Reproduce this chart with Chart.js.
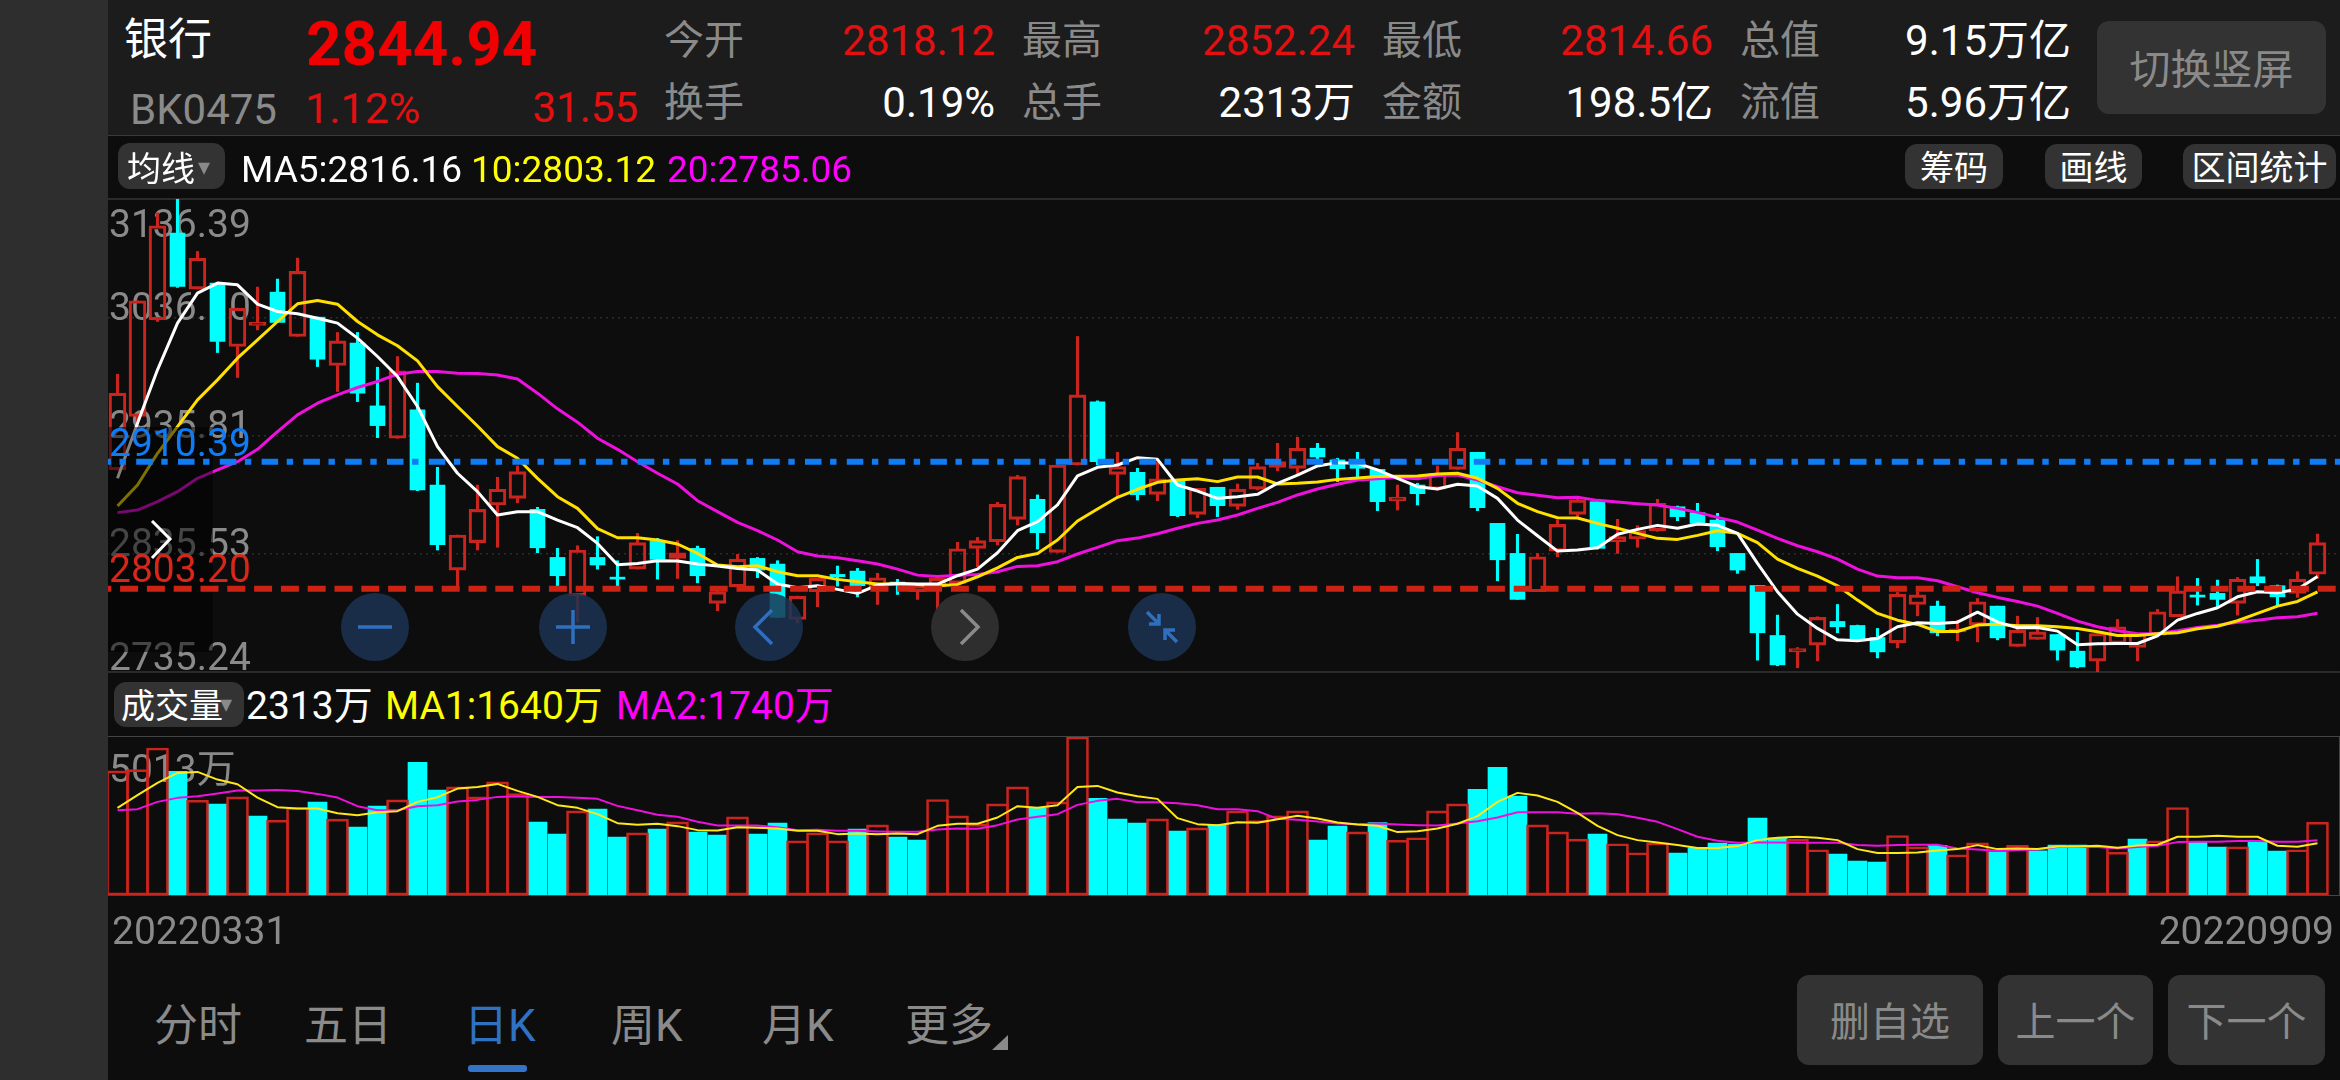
<!DOCTYPE html>
<html>
<head>
<meta charset="utf-8">
<script src="https://cdn.jsdelivr.net/npm/chart.js"></script>
<style>
html, body { margin: 0; padding: 0; width: 2340px; height: 1080px; overflow: hidden; background: #0d0d0d; }
body { position: relative; font-family: Roboto, "Noto Sans CJK SC", sans-serif; }
canvas { position: absolute; display: block; }
.box { position: absolute; }
.txt { position: absolute; height: 60px; line-height: 60px; white-space: nowrap; }
.btn { position: absolute; background: #333; border-radius: 12px; }
.circle { position: absolute; width: 68px; height: 68px; border-radius: 34px; top: 593px; background: rgba(28,52,84,.85); }
.circle svg { position: absolute; left: 0; top: 0; }
</style>
</head>
<body>
<div class="box" style="left:0;top:0;width:108px;height:1080px;background:#2e2e2e"></div>
<div class="box" style="left:108px;top:0;width:2232px;height:135px;background:#1c1c1c"></div>
<div class="box" style="left:108px;top:135px;width:2232px;height:1px;background:#3a3a3a"></div>
<div class="box" style="left:108px;top:198px;width:2232px;height:2px;background:#2a2a2a"></div>
<div class="box" style="left:108px;top:671px;width:2232px;height:2px;background:#2a2a2a"></div>
<div class="box" style="left:108px;top:736px;width:2231px;height:159px;border-top:1px solid #444;border-right:1px solid #444"></div>
<canvas id="priceCanvas" width="2232" height="473" style="left:108px;top:199px"></canvas>
<canvas id="volumeCanvas" width="2232" height="223" style="left:108px;top:737px"></canvas>
<script>
var dateLabels = ['20220331', '20220909'];
var priceTicks = [3136.39, 3036.10, 2935.81, 2835.53, 2735.24];
var priceTickLabels = ['3136.39', '3036.10', '2935.81', '2835.53', '2735.24'];
var resistanceLine = 2913.6;
var supportLine = 2805.8;
var resistanceLabel = '2910.39';
var supportLabel = '2803.20';
var volumeMax = 5013;
var volumeMaxLabel = '5013万';

var candleOpen = [
  2906.6,2951.9,3033.9,3107.5,3060.0,3065.1,3011.3,3029.1,3057.4,3019.8,
  3036.2,2995.2,3014.1,2960.9,2933.5,2957.5,2893.8,2821.7,2844.9,2876.9,
  2882.5,2873.2,2832.4,2799.9,2832.4,2814.6,2822.5,2846.6,2831.6,2840.1,
  2793.4,2807.5,2831.6,2826.8,2779.8,2803.3,2818.0,2820.8,2807.5,2811.5,
  2803.3,2807.5,2810.4,2840.1,2845.7,2864.7,2881.7,2836.7,2910.8,2964.3,
  2902.9,2904.6,2885.9,2898.1,2868.9,2891.9,2875.7,2890.4,2908.8,2908.0,
  2925.0,2915.1,2913.6,2907.1,2880.5,2893.8,2890.2,2907.1,2921.6,2861.3,
  2835.8,2803.3,2837.8,2868.9,2879.7,2845.7,2848.0,2855.1,2875.4,2870.4,
  2864.1,2835.8,2808.6,2766.2,2752.3,2758.0,2778.1,2774.7,2764.5,2760.0,
  2792.5,2791.1,2769.3,2775.0,2791.1,2756.9,2762.8,2767.0,2752.9,2744.4,
  2759.4,2756.0,2766.5,2782.1,2799.3,2801.9,2793.4,2816.0,2808.4,2801.9,2818.12
];
var candleHigh = [
  2987.8,3050.1,3124.5,3136.4,3091.9,3065.6,3043.8,3061.7,3068.5,3086.3,
  3036.2,3023.2,3023.2,2993.7,3002.8,2980.2,2908.8,2851.4,2893.8,2900.4,
  2910.0,2874.9,2840.1,2842.3,2850.0,2829.6,2852.8,2848.6,2846.6,2842.0,
  2807.5,2835.0,2832.4,2829.6,2799.6,2814.6,2825.1,2823.1,2818.9,2813.8,
  2810.4,2814.6,2845.2,2849.4,2879.1,2902.0,2885.4,2910.8,3019.8,2965.2,
  2921.6,2908.0,2913.6,2898.1,2891.0,2891.9,2894.7,2912.2,2929.2,2934.3,
  2929.2,2916.5,2921.6,2907.1,2893.8,2895.3,2910.0,2938.3,2921.6,2861.3,
  2852.0,2835.8,2864.1,2881.7,2881.1,2864.7,2859.3,2881.7,2876.0,2878.3,
  2869.8,2835.8,2808.6,2783.5,2756.0,2782.1,2792.5,2775.0,2772.2,2802.7,
  2803.3,2795.4,2779.2,2797.6,2791.1,2782.6,2781.5,2767.0,2768.8,2767.9,
  2779.8,2767.9,2788.3,2816.0,2814.6,2813.2,2815.4,2830.7,2809.0,2820.3,2852.24
];
var candleLow = [
  2906.6,2946.2,3032.5,3061.4,3060.0,3006.2,2985.0,3025.4,3031.7,3019.8,
  2994.3,2973.1,2964.6,2934.0,2933.5,2889.0,2838.7,2805.8,2838.7,2841.0,
  2878.8,2836.4,2807.5,2777.8,2822.5,2808.4,2822.5,2814.0,2814.6,2810.9,
  2787.2,2807.5,2815.2,2781.5,2777.0,2790.6,2808.1,2799.0,2792.5,2801.0,
  2796.8,2785.5,2809.0,2824.5,2842.9,2859.9,2839.5,2836.7,2910.8,2910.8,
  2883.9,2881.1,2880.5,2867.0,2866.1,2867.0,2873.2,2889.6,2906.0,2903.2,
  2913.6,2896.7,2899.5,2872.1,2872.6,2876.9,2889.6,2907.1,2872.1,2812.6,
  2796.8,2803.3,2833.0,2865.5,2839.5,2835.8,2841.0,2854.5,2863.6,2859.9,
  2838.1,2818.9,2745.3,2740.5,2738.8,2744.7,2768.5,2762.2,2747.2,2755.7,
  2782.9,2765.9,2761.7,2760.8,2762.5,2756.9,2762.8,2745.3,2738.8,2735.4,
  2759.4,2744.7,2766.5,2782.1,2792.0,2790.6,2783.5,2808.4,2791.1,2798.5,2814.66
];
var candleClose = [
  2971.7,3050.1,3113.7,3062.2,3086.3,3015.5,3043.8,3032.0,3031.7,3075.0,
  3000.5,3016.1,2971.7,2944.2,2990.6,2889.6,2843.2,2851.4,2873.2,2890.2,
  2905.2,2840.6,2816.9,2838.7,2826.0,2814.0,2844.9,2830.7,2836.4,2816.9,
  2803.3,2831.0,2821.7,2781.5,2799.6,2814.6,2816.0,2808.4,2815.2,2809.0,
  2808.4,2814.6,2839.8,2846.6,2877.4,2901.0,2853.4,2910.8,2970.3,2913.6,
  2909.4,2885.6,2899.0,2867.8,2891.0,2876.3,2890.4,2909.4,2913.6,2925.0,
  2917.6,2907.7,2908.0,2879.7,2883.6,2886.5,2903.8,2925.0,2874.6,2830.4,
  2796.8,2833.0,2860.4,2881.1,2840.1,2850.0,2855.1,2878.3,2867.0,2861.3,
  2841.5,2821.7,2768.5,2741.3,2755.2,2781.5,2773.6,2762.2,2752.3,2801.3,
  2800.7,2768.5,2771.3,2794.8,2764.2,2770.7,2769.3,2753.8,2739.6,2767.9,
  2773.6,2767.9,2786.3,2804.1,2798.8,2796.8,2814.0,2810.9,2799.0,2814.0,2844.94
];
var ma5 = [
  2899.5,2946.2,2991.5,3031.1,3056.6,3065.1,3063.6,3047.2,3041.0,3039.0,
  3035.3,3031.1,3018.4,3002.8,2985.8,2960.4,2926.4,2903.8,2888.2,2868.4,
  2871.2,2871.2,2864.1,2857.6,2844.3,2826.2,2827.3,2829.6,2829.3,2826.8,
  2825.1,2823.1,2821.7,2809.8,2806.7,2808.4,2805.3,2801.9,2809.0,2810.4,
  2809.8,2809.8,2816.9,2822.5,2836.4,2855.1,2862.7,2876.9,2901.5,2908.8,
  2910.8,2917.0,2915.6,2893.8,2888.7,2882.5,2883.9,2885.9,2895.3,2902.3,
  2910.0,2912.8,2912.2,2906.6,2899.5,2892.4,2890.4,2894.4,2893.0,2882.5,
  2864.1,2850.8,2837.8,2838.7,2840.6,2852.0,2856.2,2859.6,2857.1,2860.7,
  2859.6,2852.8,2827.3,2803.3,2784.3,2772.2,2762.5,2761.7,2763.7,2773.6,
  2777.0,2776.4,2777.5,2786.0,2777.8,2772.7,2773.0,2769.9,2758.3,2759.1,
  2759.4,2759.4,2765.9,2779.2,2784.9,2789.7,2799.0,2803.3,2802.4,2805.5,2816.16
];
var ma10 = [
  2876.0,2893.8,2920.7,2943.4,2966.0,2983.0,3001.4,3016.9,3032.5,3047.5,
  3050.3,3047.2,3032.5,3021.2,3011.9,2999.1,2977.3,2960.4,2943.9,2926.4,
  2916.5,2899.5,2883.9,2874.0,2856.8,2849.1,2849.1,2847.2,2843.8,2835.8,
  2826.0,2824.5,2825.4,2820.3,2816.9,2816.9,2813.8,2811.8,2809.8,2809.8,
  2809.5,2808.4,2809.5,2816.0,2823.6,2832.4,2835.8,2847.2,2863.3,2873.5,
  2883.4,2890.2,2896.1,2898.1,2899.2,2896.7,2900.6,2900.6,2894.7,2895.3,
  2896.4,2898.6,2899.8,2901.0,2901.2,2901.5,2903.2,2903.8,2899.5,2891.0,
  2878.3,2871.2,2866.1,2865.8,2861.3,2857.1,2852.8,2848.6,2847.7,2851.1,
  2855.1,2852.8,2844.9,2831.0,2823.1,2816.6,2808.4,2796.2,2784.9,2779.2,
  2775.6,2769.6,2769.6,2775.0,2775.8,2774.4,2774.4,2773.6,2772.2,2769.3,
  2766.2,2766.2,2767.6,2768.5,2771.9,2774.1,2778.7,2784.9,2791.1,2795.1,2803.12
];
var ma20 = [
  2870.4,2872.6,2879.7,2888.2,2899.5,2906.6,2913.6,2924.1,2939.1,2953.3,
  2963.2,2970.3,2976.5,2981.6,2987.8,2990.1,2990.1,2988.7,2988.4,2987.2,
  2983.8,2971.7,2958.4,2947.1,2933.5,2924.1,2913.6,2903.8,2894.7,2880.5,
  2871.2,2862.1,2855.1,2847.2,2837.2,2833.6,2832.2,2829.6,2826.8,2822.5,
  2817.4,2816.3,2817.2,2818.0,2820.3,2824.8,2825.4,2828.8,2835.3,2841.0,
  2846.6,2848.8,2852.5,2857.1,2861.3,2864.1,2868.4,2874.0,2879.1,2885.4,
  2890.4,2894.4,2898.1,2899.2,2900.1,2899.2,2901.8,2902.3,2898.1,2892.4,
  2887.3,2885.1,2883.1,2883.4,2880.8,2879.4,2878.0,2876.9,2874.0,2870.6,
  2866.4,2862.4,2855.6,2848.6,2842.3,2837.2,2831.0,2822.5,2816.6,2815.2,
  2815.2,2812.6,2807.5,2802.4,2798.5,2795.1,2791.1,2784.9,2778.4,2773.6,
  2770.2,2767.6,2767.9,2770.2,2773.0,2775.0,2777.5,2779.2,2781.2,2782.1,2785.06
];
var volume = [
  3937,3979,4665,3926,3008,2881,3113,2501,2375,2776,
  2945,2406,2153,2818,3018,4211,3325,3430,3113,3588,
  3219,2311,1931,2670,2723,1836,1974,2090,2322,1995,
  1900,2480,1931,2280,1720,1974,1720,2090,2227,1836,
  1741,3029,2512,2248,2892,3430,2765,2955,5013,3071,
  2406,2280,2417,2026,2132,2227,2670,2364,2512,2670,
  1741,2185,2005,2301,1741,1815,2670,2892,3356,4053,
  3135,2227,2005,1773,1931,1625,1340,1657,1330,1499,
  1646,1615,2438,1815,1773,1435,1298,1077,1045,1889,
  1530,1573,1277,1657,1372,1573,1404,1583,1583,1562,
  1361,1773,1720,2776,1668,1520,1530,1689,1393,1435,2313
];
var volumeDownDays = [3,5,7,10,12,13,15,16,21,22,24,25,27,29,30,32,33,37,39,40,46,49,50,51,53,55,60,61,63,68,69,70,74,78,79,80,81,82,83,86,87,88,91,94,96,97,98,101,104,105,107,108];
var volMa1 = [
  2765,3166,3557,3873,3905,3662,3514,3092,2786,2744,
  2744,2596,2533,2628,2660,2955,3103,3377,3430,3525,
  3303,3113,2850,2765,2565,2280,2227,2259,2185,2058,
  2047,2153,2132,2111,2037,2037,1931,1952,1931,1952,
  1931,2195,2259,2259,2459,2818,2765,2850,3430,3462,
  3251,3135,3050,2438,2248,2216,2311,2290,2406,2512,
  2427,2301,2237,2195,1995,2026,2111,2259,2501,2955,
  3240,3156,2955,2607,2195,1900,1741,1668,1583,1488,
  1488,1551,1741,1815,1847,1815,1741,1456,1330,1330,
  1351,1414,1456,1583,1456,1478,1456,1541,1541,1562,
  1499,1573,1594,1847,1847,1879,1847,1847,1562,1530,1640
];
var volMa2 = [
  2691,2723,2955,3082,3135,3219,3314,3314,3335,3303,
  3208,3092,2818,2691,2691,2818,2850,2966,3018,3113,
  3135,3113,3113,3082,3050,2828,2691,2544,2480,2322,
  2206,2206,2206,2153,2058,2069,2037,2037,2016,2005,
  2005,2079,2111,2100,2216,2396,2480,2565,2860,2987,
  3050,2945,2945,2913,2850,2723,2723,2660,2417,2385,
  2332,2269,2248,2269,2237,2216,2206,2269,2343,2459,
  2628,2628,2628,2575,2596,2565,2449,2322,2090,1847,
  1720,1657,1668,1668,1657,1657,1657,1583,1562,1583,
  1594,1594,1478,1446,1404,1425,1446,1520,1530,1520,
  1478,1520,1562,1678,1689,1689,1710,1710,1689,1689,1740
];

var RED = '#c9241d';
var CYAN = '#00ffff';
var GREY = '#8a8a8a';
var BLUE = '#0f7cf5';
var AXIS_FONT = 'Roboto, "Noto Sans CJK SC", sans-serif';
var LAST_DAY = candleOpen.length - 1;

// x runs on the day number so the panels can overhang the last candle like the app does
var X_MIN = -0.475;
var X_MAX = 111.125;

function pts(arr) {
  return arr.map(function (v, i) { return { x: i, y: v }; });
}

function pick(test, make) {
  var out = [];
  for (var i = 0; i <= LAST_DAY; i++) {
    if (test(i)) out.push({ x: i, y: make(i) });
  }
  return out;
}

function isUp(i) { return candleClose[i] >= candleOpen[i]; }
function isDown(i) { return !isUp(i); }
function bodyTop(i) { return Math.max(candleOpen[i], candleClose[i]); }
function bodyBottom(i) { return Math.min(candleOpen[i], candleClose[i]); }
function upperWick(i) { return [bodyTop(i), candleHigh[i]]; }
function lowerWick(i) { return [candleLow[i], bodyBottom(i)]; }
function body(i) { return [candleOpen[i], candleClose[i]]; }

function wick(test, make, color) {
  return { type: 'bar', data: pick(test, make), backgroundColor: color, barThickness: 2.5, grouped: false, order: 8 };
}

function maLine(arr, color, order, width) {
  return { type: 'line', data: pts(arr), borderColor: color, borderWidth: width, pointRadius: 0, tension: 0, fill: false, order: order, borderJoinStyle: 'round' };
}

function flatLine(value, color, dash, offset, order) {
  return {
    type: 'line',
    data: [{ x: X_MIN, y: value }, { x: X_MAX, y: value }],
    borderColor: color, borderWidth: 6, borderDash: dash, borderDashOffset: offset,
    pointRadius: 0, fill: false, order: order
  };
}

function drawLabel(chart, scaleId, value, text, color, dy) {
  var ctx = chart.ctx;
  ctx.save();
  ctx.font = '39px ' + AXIS_FONT;
  ctx.fillStyle = color;
  ctx.textBaseline = 'middle';
  ctx.textAlign = 'left';
  ctx.fillText(text, 1, chart.scales[scaleId].getPixelForValue(value) + dy);
  ctx.restore();
}

// labels sit inside the panel, above their grid line, first one below it
var priceLabels = {
  id: 'priceLabels',
  beforeDatasetsDraw: function (chart) {
    priceTicks.forEach(function (v, i) {
      var dy = i === 0 ? 28.5 : (i === priceTicks.length - 1 ? -11.5 : -7.5);
      drawLabel(chart, 'y', v, priceTickLabels[i], GREY, dy);
    });
  },
  // the dark hover panel on the left covers candles and averages, not the two level lines
  beforeDatasetDraw: function (chart, args) {
    if (args.index !== chart.data.datasets.length - 2) return;
    chart.ctx.save();
    chart.ctx.fillStyle = 'rgba(0,0,0,0.5)';
    chart.ctx.fillRect(0, 228, 105, 225);
    chart.ctx.restore();
  },
  afterDatasetsDraw: function (chart) {
    drawLabel(chart, 'y', resistanceLine, resistanceLabel, BLUE, -15.5);
    drawLabel(chart, 'y', supportLine, supportLabel, '#d8261a', -16.5);
  }
};

var volumeLabels = {
  id: 'volumeLabels',
  beforeDatasetsDraw: function (chart) {
    drawLabel(chart, 'vol', volumeMax, volumeMaxLabel, GREY, 35);
  }
};

new Chart(document.getElementById('priceCanvas').getContext('2d'), {
  type: 'bar',
  data: {
    datasets: [
      wick(isUp, upperWick, RED),
      wick(isUp, lowerWick, RED),
      wick(isDown, upperWick, CYAN),
      wick(isDown, lowerWick, CYAN),
      { type: 'bar', data: pick(isUp, body), backgroundColor: 'rgba(0,0,0,0)', borderColor: RED, borderWidth: 2.5, borderSkipped: false, barThickness: 17, minBarLength: 3, grouped: false, order: 7 },
      { type: 'bar', data: pick(isDown, body), backgroundColor: CYAN, barThickness: 15, minBarLength: 2, grouped: false, order: 6 },
      maLine(ma20, '#ee11dd', 5, 3),
      maLine(ma10, '#ffe000', 4, 3),
      maLine(ma5, '#ffffff', 3, 3),
      flatLine(resistanceLine, BLUE, [16.5, 8.6, 6.4, 10.3], 13.6, 2),
      flatLine(supportLine, '#cc2314', [18, 8.8], 14.7, 1)
    ]
  },
  options: {
    responsive: false,
    animation: false,
    devicePixelRatio: 1,
    layout: { padding: 0 },
    plugins: { legend: { display: false }, tooltip: { enabled: false } },
    scales: {
      x: { type: 'linear', min: X_MIN, max: X_MAX, offset: false, display: false },
      y: {
        min: priceTicks[priceTicks.length - 1], max: priceTicks[0],
        afterBuildTicks: function (s) { s.ticks = priceTicks.map(function (v) { return { value: v }; }); },
        ticks: { display: false },
        border: { display: false, dash: [2, 4] },
        grid: { color: '#2c2c2c', lineWidth: 1.5, drawTicks: false, tickLength: 0 },
        afterFit: function (s) { s.width = 0; }
      }
    }
  },
  plugins: [priceLabels]
});

function isVolDown(i) { return volumeDownDays.indexOf(i) >= 0; }
function isVolUp(i) { return !isVolDown(i); }
function volValue(i) { return volume[i]; }

new Chart(document.getElementById('volumeCanvas').getContext('2d'), {
  type: 'bar',
  data: {
    datasets: [
      { type: 'bar', data: pick(isVolDown, volValue), yAxisID: 'vol', backgroundColor: CYAN, barThickness: 19, grouped: false, order: 4 },
      { type: 'bar', data: pick(isVolUp, volValue), yAxisID: 'vol', backgroundColor: 'rgba(0,0,0,0)', borderColor: RED, borderWidth: 2, borderSkipped: false, barThickness: 22, grouped: false, order: 3 },
      Object.assign(maLine(volMa2, '#ee11dd', 2, 2), { yAxisID: 'vol' }),
      Object.assign(maLine(volMa1, '#ffe81a', 1, 2), { yAxisID: 'vol' })
    ]
  },
  options: {
    responsive: false,
    animation: false,
    devicePixelRatio: 1,
    layout: { padding: 0 },
    plugins: { legend: { display: false }, tooltip: { enabled: false } },
    scales: {
      x: {
        type: 'linear', min: X_MIN, max: X_MAX, offset: false,
        afterBuildTicks: function (s) { s.ticks = [{ value: X_MIN + 0.2 }, { value: X_MAX - 0.3 }]; },
        afterFit: function (s) { s.height = 65; },
        border: { color: '#444', width: 1 },
        // tick padding would inset the plot area here, so the gap under the axis comes from tickLength
        grid: { display: false, drawTicks: true, tickLength: 16 },
        ticks: {
          align: 'inner', autoSkip: false, maxRotation: 0, padding: 0, color: GREY,
          font: { family: AXIS_FONT, size: 39 },
          callback: function (v, i) { return dateLabels[i]; }
        }
      },
      vol: {
        min: 0, max: volumeMax, position: 'left',
        ticks: { display: false },
        border: { display: false },
        grid: { display: false, drawTicks: false },
        afterFit: function (s) { s.width = 0; }
      }
    }
  },
  plugins: [volumeLabels]
});

// ---- app chrome around the chart ----
function addText(text, x, cy, size, color, align, weight) {
  var el = document.createElement('div');
  el.className = 'txt';
  el.textContent = text;
  el.style.top = (cy - 30) + 'px';
  el.style.fontSize = size + 'px';
  el.style.color = color;
  if (weight) el.style.fontWeight = weight;
  if (align === 'right') el.style.right = (2340 - x) + 'px';
  else if (align === 'center') { el.style.left = (x - 300) + 'px'; el.style.width = '600px'; el.style.textAlign = 'center'; }
  else el.style.left = x + 'px';
  document.body.appendChild(el);
}

function addBtn(x1, y1, x2, y2, text, size, color, textDy) {
  var el = document.createElement('div');
  el.className = 'btn';
  el.style.left = x1 + 'px';
  el.style.top = y1 + 'px';
  el.style.width = (x2 - x1) + 'px';
  el.style.height = (y2 - y1) + 'px';
  document.body.appendChild(el);
  if (text) addText(text, (x1 + x2) / 2, (y1 + y2) / 2 + (textDy || 0), size, color, 'center');
}

var LABEL = '#8a8a8a', WHITE = '#ffffff', QUOTE = '#e21010';
addText('银行', 124, 40, 44, WHITE);
addText('2844.94', 306, 44, 62, '#f00000', 'left', 700);
addText('BK0475', 130, 110, 42, LABEL);
addText('1.12%', 305, 108, 43, QUOTE);
addText('31.55', 638, 108, 42, QUOTE, 'right');

var quoteRows = [
  [664, '今开', 995, '2818.12', QUOTE, 40.5, '换手', '0.19%', WHITE],
  [1022, '最高', 1355, '2852.24', QUOTE, 40.5, '总手', '2313万', WHITE],
  [1382, '最低', 1713, '2814.66', QUOTE, 40.5, '金额', '198.5亿', WHITE],
  [1740, '总值', 2071, '9.15万亿', WHITE, 40.5, '流值', '5.96万亿', WHITE]
];
quoteRows.forEach(function (r) {
  addText(r[1], r[0], r[5], 40, LABEL);
  addText(r[3], r[2], r[5], 42, r[4], 'right');
  addText(r[6], r[0], 102.5, 40, LABEL);
  addText(r[7], r[2], 102.5, 42, r[8], 'right');
});
addBtn(2097, 21, 2326, 114, '切换竖屏', 41, LABEL, 2.5);

addBtn(118, 143, 225, 189);
addText('均线', 127, 168.5, 34, WHITE);
addText('▾', 198, 167, 24, LABEL);
addText('MA5:2816.16', 241, 169.5, 37, WHITE);
addText('10:2803.12', 471, 169.5, 37, '#ffff00');
addText('20:2785.06', 667, 169.5, 37, '#ff00ff');
addBtn(1905, 144, 2003, 189, '筹码', 34, WHITE, 1.5);
addBtn(2045, 144, 2142, 189, '画线', 34, WHITE, 1.5);
addBtn(2183, 144, 2336, 189, '区间统计', 34, WHITE, 1.5);

addBtn(114, 682, 244, 727);
addText('成交量', 121, 706, 34, WHITE);
addText('▾', 220, 704, 24, LABEL);
addText('2313万', 246, 705.5, 39, WHITE);
addText('MA1:1640万', 385, 705.5, 39, '#ffff00');
addText('MA2:1740万', 616, 705.5, 39, '#ff00ff');

addText('分时', 154, 1026, 44, LABEL);
addText('五日', 304, 1026, 44, LABEL);
addText('日K', 464, 1026, 44, '#2f72c4');
addText('周K', 611, 1026, 44, LABEL);
addText('月K', 762, 1026, 44, LABEL);
addText('更多', 905, 1026, 44, LABEL);
addBtn(1797, 975, 1983, 1065, '删自选', 40, LABEL, 3);
addBtn(1998, 975, 2153, 1065, '上一个', 40, LABEL, 3);
addBtn(2168, 975, 2325, 1065, '下一个', 40, LABEL, 3);

function addSvg(html, style) {
  var el = document.createElement('div');
  el.className = 'box';
  el.style.cssText += style;
  el.innerHTML = html;
  document.body.appendChild(el);
}
addSvg('<svg width="16" height="15"><path d="M0 15L16 15L16 0Z" fill="#8a8a8a"/></svg>', 'left:992px;top:1035px;');
addSvg('', 'left:468px;top:1065px;width:59px;height:7px;border-radius:3px;background:#3474c8;');
addSvg('<svg width="24" height="40"><path d="M2 1L20 19L2 38" fill="none" stroke="#fff" stroke-width="3"/></svg>', 'left:150px;top:520px;');

var ICON_BLUE = '#2f6fc0';
var circles = [
  [341, 'M17 34H51', 'none'],
  [538.5, 'M17 34H51M34 17V51', 'none'],
  [734.5, 'M37 17L20 34L37 51', 'none'],
  [931, 'M30 17L47 34L30 51', 'grey'],
  [1128, 'M19 19L31 31M31 21V31H21M49 49L37 37M37 47V37H47', 'none']
];
circles.forEach(function (c) {
  var el = document.createElement('div');
  el.className = 'circle';
  el.style.left = c[0] + 'px';
  if (c[2] === 'grey') el.style.background = '#2e2e2e';
  el.innerHTML = '<svg width="68" height="68"><path d="' + c[1] + '" fill="none" stroke-width="3.5" stroke="' + (c[2] === 'grey' ? '#8a8a8a' : ICON_BLUE) + '"/></svg>';
  document.body.appendChild(el);
});
</script>
</body>
</html>
